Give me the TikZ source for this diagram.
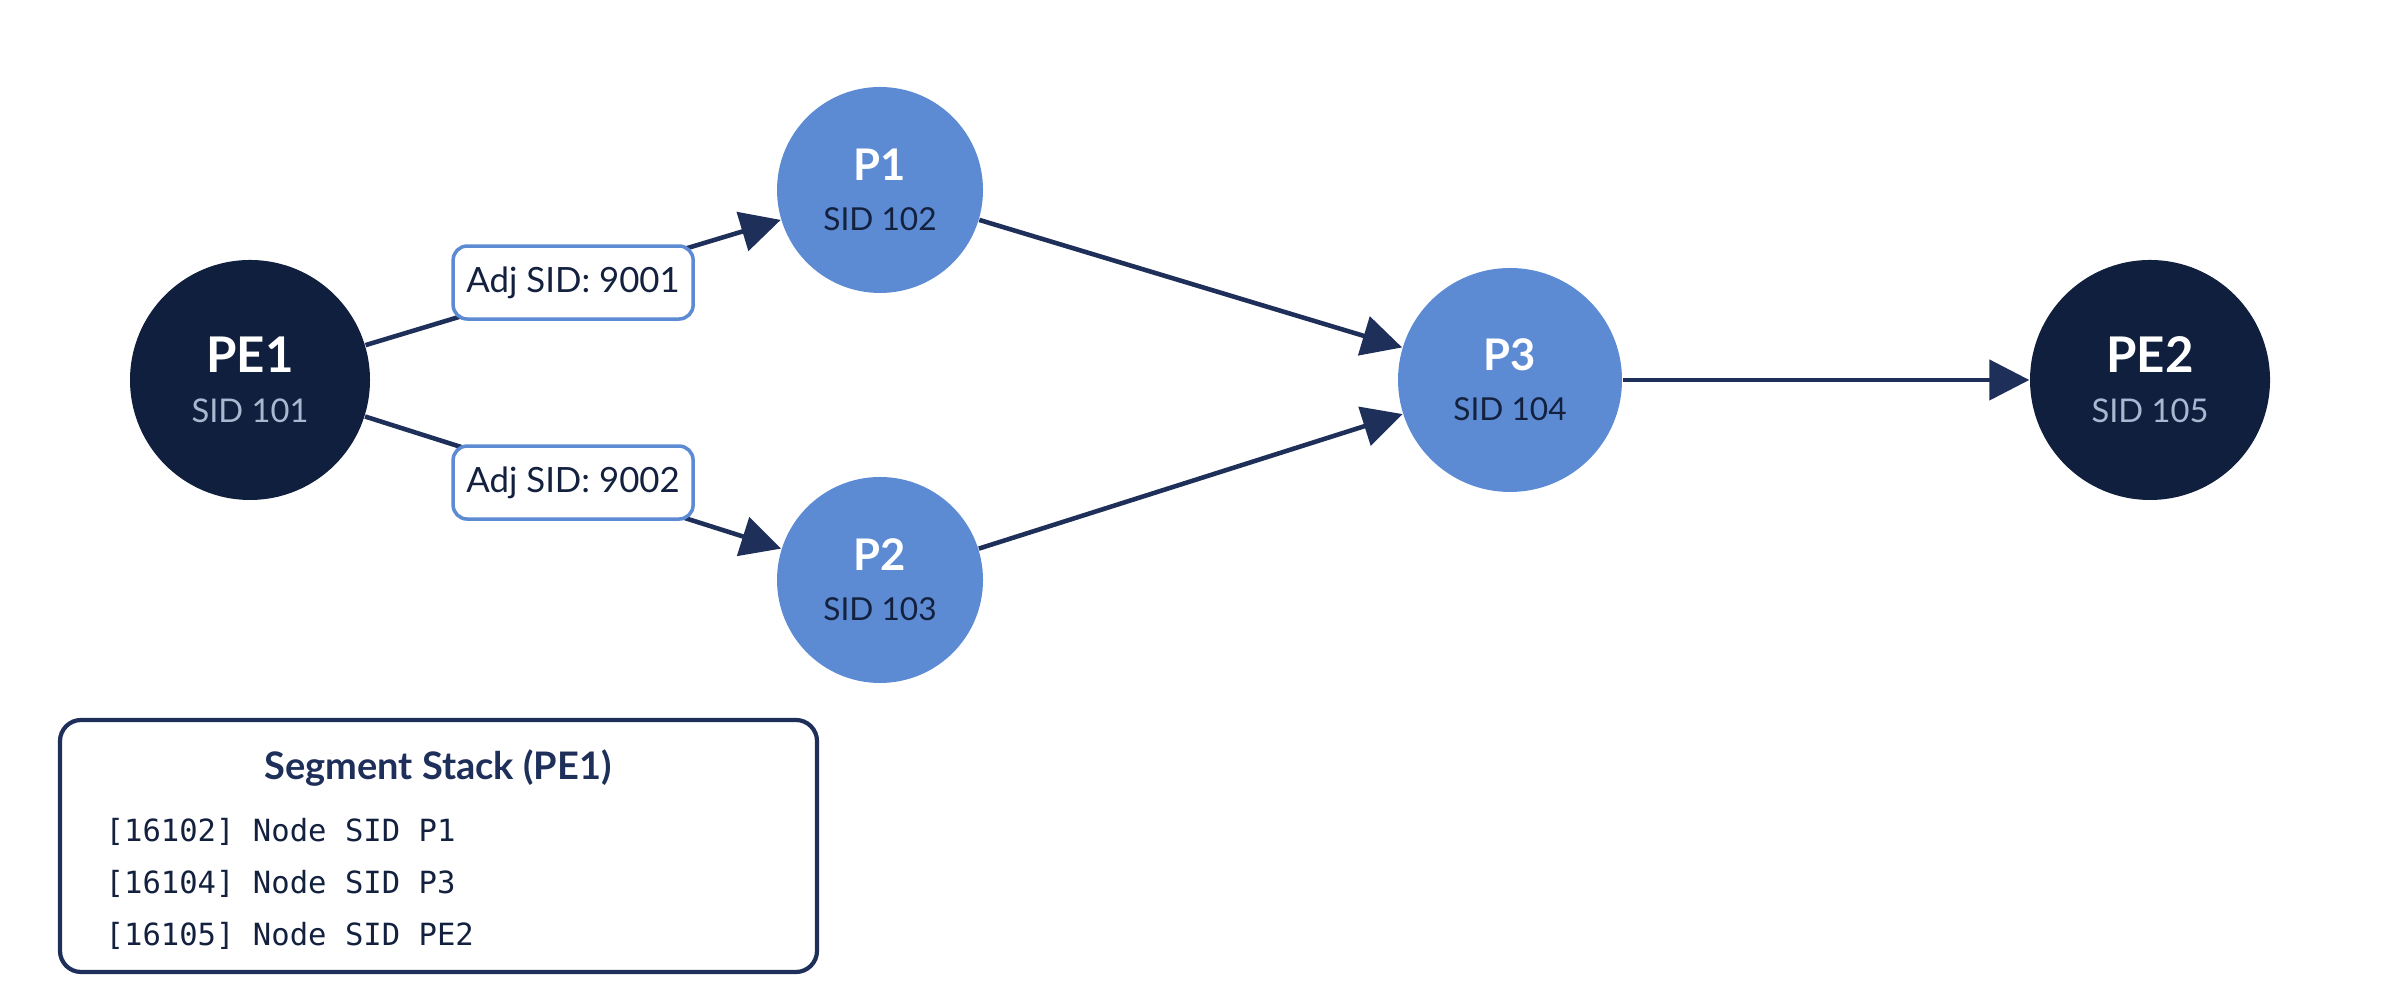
\documentclass[tikz,border=0pt]{standalone}
\usepackage{fontspec}
\setmainfont{Lato}
\setmonofont{DejaVu Sans Mono}
\usepackage{xcolor}
\definecolor{srnavy}{RGB}{16,31,61}
\definecolor{srline}{RGB}{30,47,89}
\definecolor{srblue}{RGB}{92,139,212}
\definecolor{srsid}{RGB}{168,184,208}
\definecolor{srtext}{RGB}{19,33,63}
\usetikzlibrary{arrows.meta}

\begin{document}
\begin{tikzpicture}[
  penode/.style={circle, fill=srnavy, minimum size=2.4cm, inner sep=0pt, text=white,
    align=center, font=\fontsize{9.3}{14.2}\selectfont},
  pnode/.style={circle, fill=srblue, minimum size=2.06cm, inner sep=0pt, text=srtext,
    align=center, font=\fontsize{9}{14.2}\selectfont},
  flow/.style={draw=srline, line width=1.3pt, -{Triangle[length=0.4cm, width=0.4cm]}},
  adjsid/.style={draw=srblue, line width=1pt, fill=white, rounded corners=4pt,
    minimum width=2.4cm, minimum height=0.73cm, inner sep=0pt, text=srtext,
    font=\fontsize{9.9}{12}\selectfont},
  stackline/.style={anchor=base west, inner sep=0pt, text=srtext,
    font=\ttfamily\fontsize{8.7}{10}\selectfont},
]
\useasboundingbox (0,0) rectangle (24,10);

% Routers
\node[penode] (pe1) at (2.5,6.2) {{\fontsize{14}{14.2}\selectfont\bfseries PE1}\\\textcolor{srsid}{SID 101}};
\node[pnode] (p1) at (8.8,8.1) {{\fontsize{12.4}{14.2}\selectfont\bfseries\color{white}P1}\\SID 102};
\node[pnode] (p2) at (8.8,4.2) {{\fontsize{12.4}{14.2}\selectfont\bfseries\color{white}P2}\\SID 103};
\node[pnode, minimum size=2.24cm] (p3) at (15.1,6.2) {{\fontsize{12.4}{14.2}\selectfont\bfseries\color{white}P3}\\SID 104};
\node[penode] (pe2) at (21.5,6.2) {{\fontsize{14}{14.2}\selectfont\bfseries PE2}\\\textcolor{srsid}{SID 105}};

% Links
\draw[flow] (pe1) -- node[adjsid] (adj1) {Adj SID: 9001} (p1);
\draw[flow] (pe1) -- node[adjsid] (adj2) {Adj SID: 9002} (p2);
\draw[flow] (p1) -- (p3);
\draw[flow] (p2) -- (p3);
\draw[flow] (p3) -- (pe2);

% Segment stack
\node[draw=srline, line width=1.2pt, rounded corners=6pt, minimum width=7.57cm,
  minimum height=2.52cm, inner sep=0pt] (stack) at (4.385,1.54) {};
\node[anchor=base, inner sep=0pt, text=srline, font=\fontsize{10.8}{12}\selectfont\bfseries]
  (stacktitle) at (4.38,2.20) {Segment Stack (PE1)};
\node[stackline] (seg1) at (1.05,1.58) {[16102] Node SID P1};
\node[stackline] (seg2) at (1.05,1.06) {[16104] Node SID P3};
\node[stackline] (seg3) at (1.05,0.54) {[16105] Node SID PE2};
\end{tikzpicture}
\end{document}
